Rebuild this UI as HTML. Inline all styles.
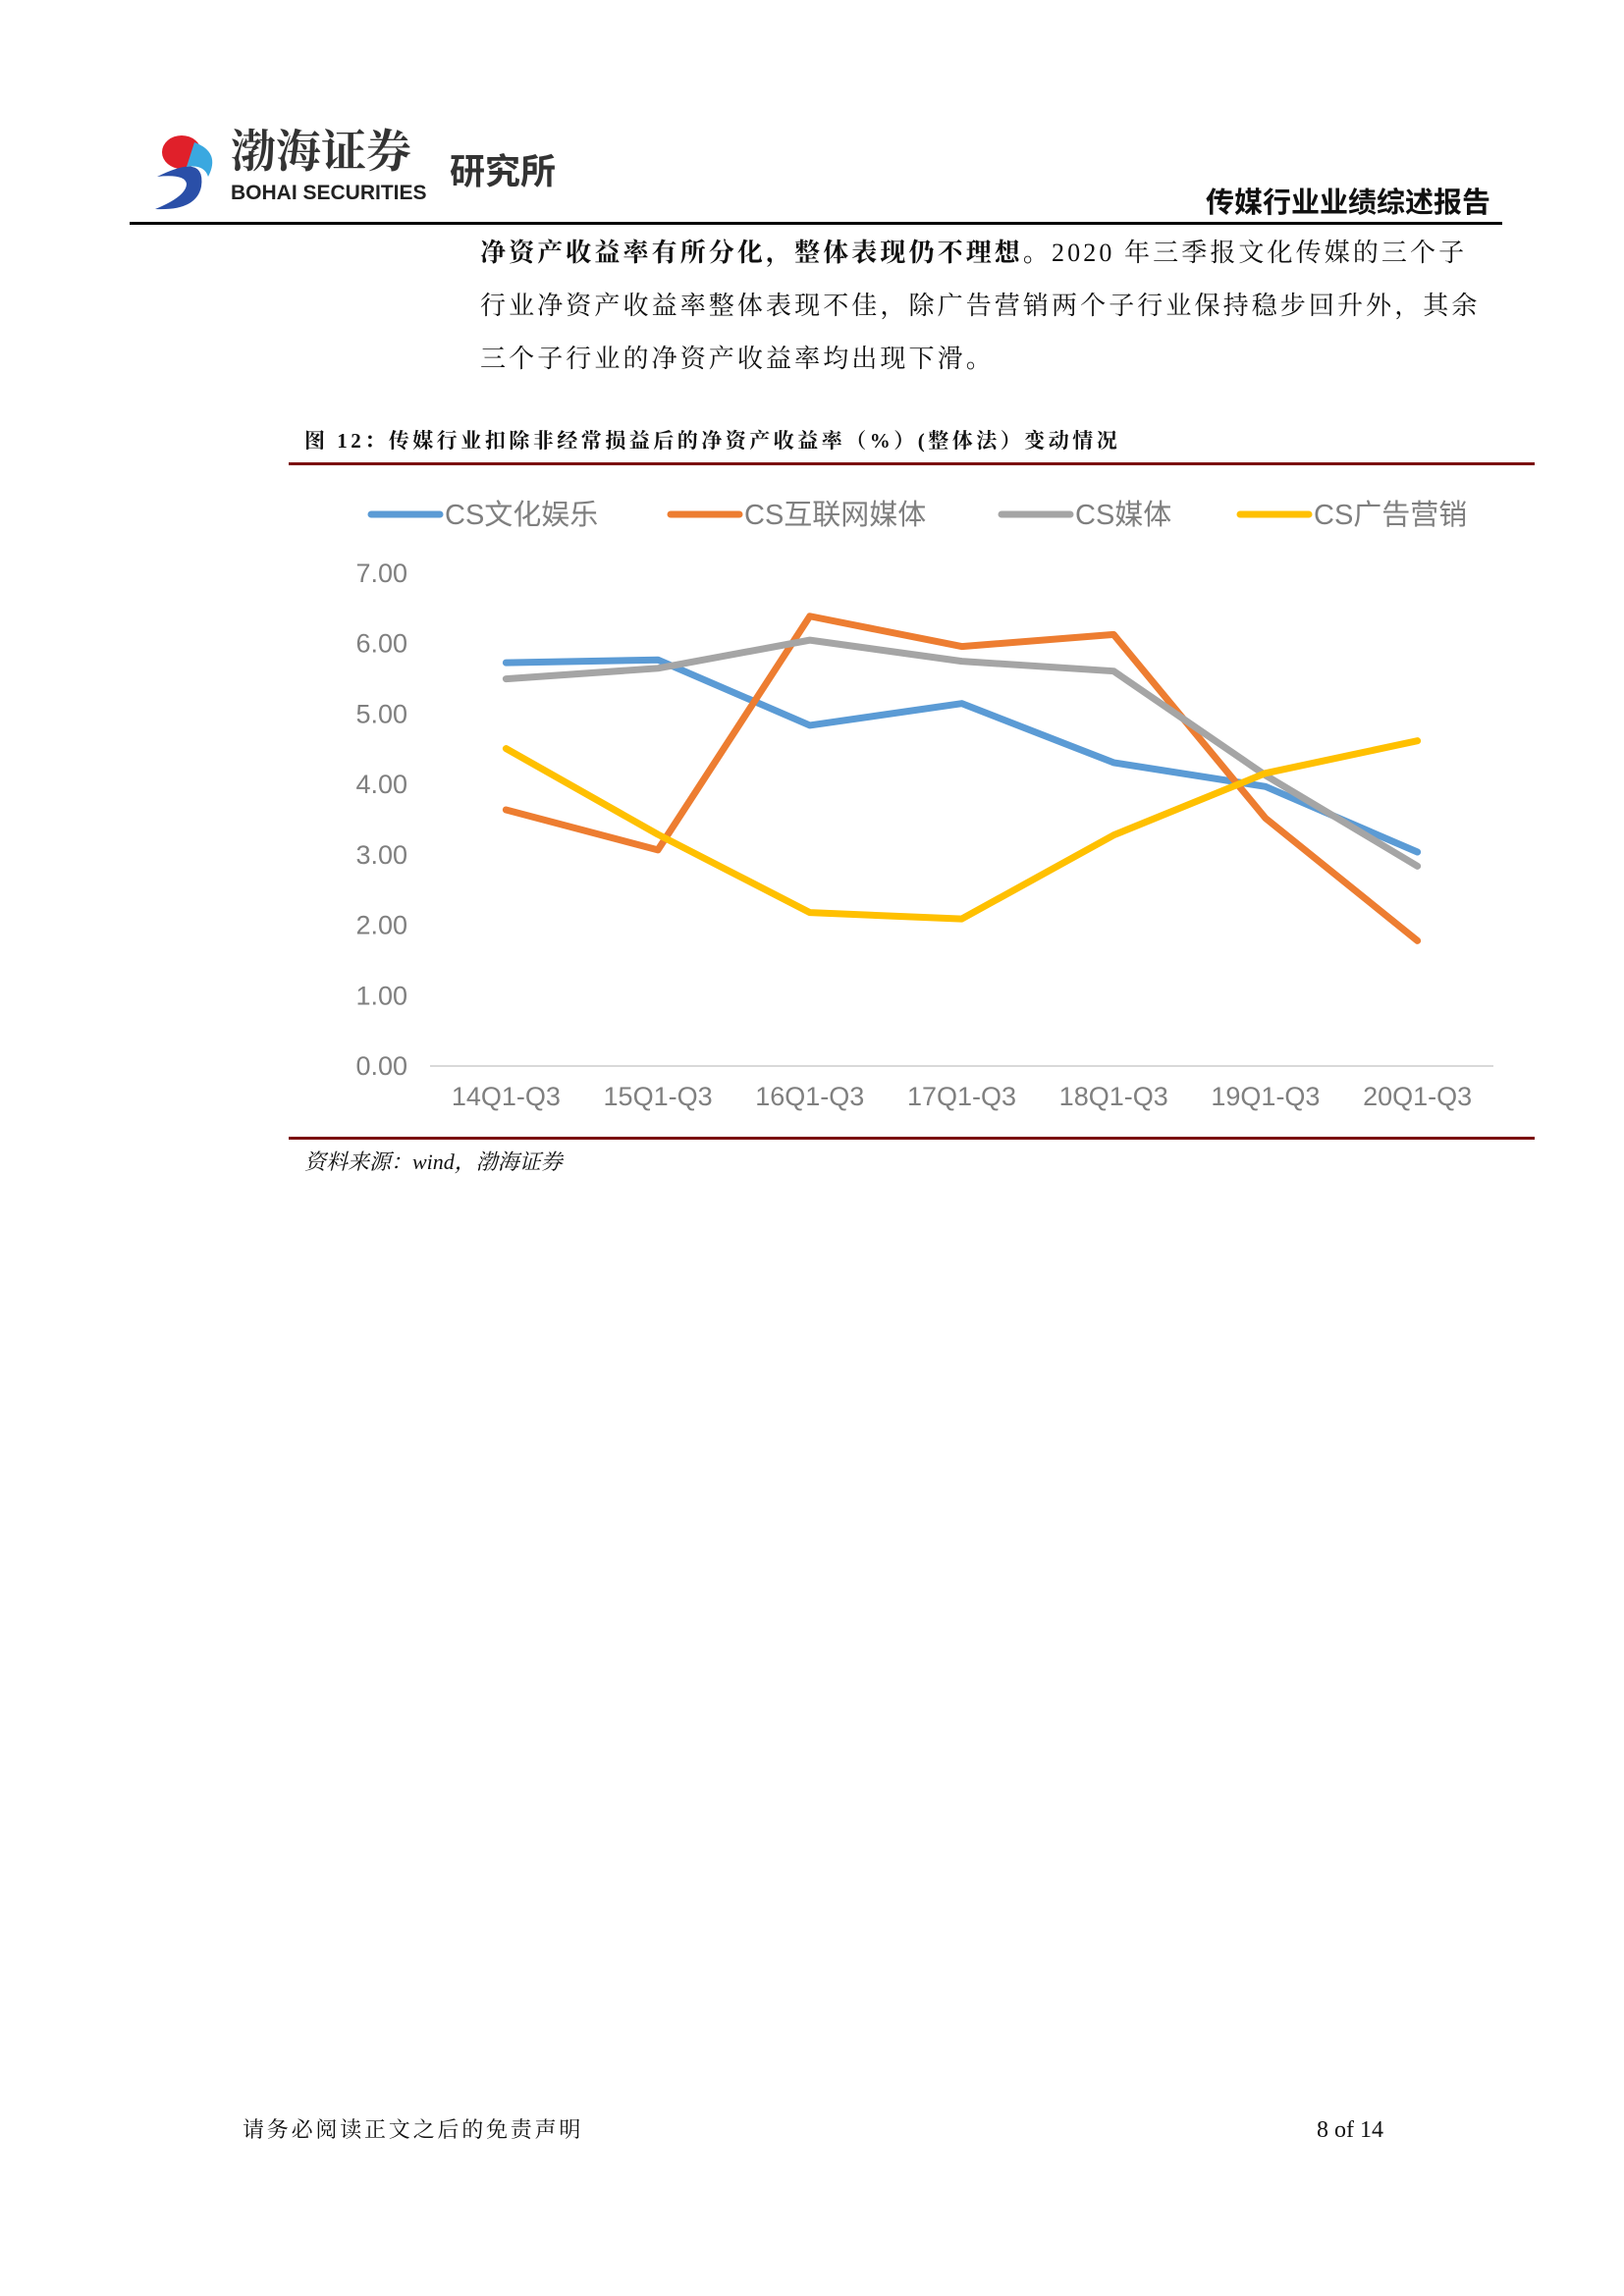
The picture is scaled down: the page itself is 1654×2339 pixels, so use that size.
<!DOCTYPE html>
<html><head><meta charset="utf-8"><style>
body{margin:0;background:#fff}
#page{position:relative;width:1654px;height:2339px;overflow:hidden;background:#fff;font-family:"Liberation Serif","Noto Serif CJK SC",serif}
.abs{position:absolute;white-space:nowrap}
</style></head><body>
<div id="page">
<svg class="abs" style="left:150px;top:125px" width="300" height="95">
<ellipse cx="35" cy="30" rx="20" ry="17" fill="#e0202a"/>
<path d="M10 55 Q60 30 55 65 Q50 90 8 88 Q40 75 40 62 Q38 52 10 55Z" fill="#2a4fa8"/>
<path d="M48 20 Q75 30 62 55 Q58 42 40 45Z" fill="#3aa8e0"/>
<text x="85" y="45" font-size="46" font-family="Noto Serif CJK SC,serif" fill="#333" font-weight="bold">渤海证券</text>
<text x="85" y="78" font-size="21" font-family="Liberation Sans,sans-serif" font-weight="bold" fill="#222">BOHAI SECURITIES</text>
</svg>
<div class="abs" style="left:458px;top:146px;font-size:36px;font-weight:bold;font-family:'Noto Sans CJK SC',sans-serif;color:#333">研究所</div>
<div class="abs" style="top:183px;font-size:29px;font-weight:bold;font-family:'Noto Sans CJK SC',sans-serif;color:#111;right:136px">传媒行业业绩综述报告</div>
<div class="abs" style="left:132px;top:226px;width:1398px;height:3px;background:#000"></div>
<div class="abs" style="left:489px;top:231px;font-size:26px;line-height:54px;color:#111;width:1100px;white-space:normal;letter-spacing:3.1px"><b>净资产收益率有所分化，整体表现仍不理想。</b>2020 年三季报文化传媒的三个子<br>行业净资产收益率整体表现不佳，除广告营销两个子行业保持稳步回升外，其余<br>三个子行业的净资产收益率均出现下滑。</div>
<div class="abs" style="left:310px;top:433px;font-size:21px;font-weight:bold;color:#111;letter-spacing:3.5px">图 12：传媒行业扣除非经常损益后的净资产收益率（%）(整体法）变动情况</div>
<div class="abs" style="left:294px;top:471px;width:1269px;height:3px;background:#7b0c0c"></div>
<div class="abs" style="left:294px;top:1158px;width:1269px;height:3px;background:#7b0c0c"></div>
<div class="abs" style="left:310px;top:1167px;font-size:22px;font-style:italic;color:#111">资料来源：wind，渤海证券</div>
<svg id="chart" class="abs" style="left:0;top:0" width="1654" height="1200"></svg>
<div class="abs" style="left:247px;top:2153px;font-size:22px;color:#111;letter-spacing:2.8px">请务必阅读正文之后的免责声明</div>
<div class="abs" style="left:1339px;top:2157px;font-size:24px;color:#111;width:70px;text-align:right">8 of 14</div>
</div>
<script>
const categories=["14Q1-Q3","15Q1-Q3","16Q1-Q3","17Q1-Q3","18Q1-Q3","19Q1-Q3","20Q1-Q3"];
const yTicks=["0.00","1.00","2.00","3.00","4.00","5.00","6.00","7.00"];
const seriesNames=["CS文化娱乐","CS互联网媒体","CS媒体","CS广告营销"];
const culture=[5.73,5.77,4.84,5.15,4.31,3.97,3.04];
const internet=[3.64,3.07,6.39,5.96,6.13,3.52,1.78];
const media=[5.50,5.65,6.05,5.75,5.61,4.13,2.84];
const advert=[4.51,3.29,2.18,2.09,3.28,4.16,4.62];
const colors=["#5B9BD5","#ED7D31","#A5A5A5","#FFC000"];
const svg=document.getElementById('chart');const NS="http://www.w3.org/2000/svg";
const x0=438,x1=1521,yb=1086,yt=584,ymax=7;
const xs=i=>x0+(x1-x0)*(i+0.5)/categories.length;
const ys=v=>yb-(yb-yt)*v/ymax;
function mk(t,a){const e=document.createElementNS(NS,t);for(const k in a)e.setAttribute(k,a[k]);svg.appendChild(e);return e;}
const ax=mk('line',{x1:x0,x2:x1,y1:yb,y2:yb,stroke:'#d9d9d9','stroke-width':2});


yTicks.forEach(t=>{const e=mk('text',{x:415,y:ys(parseFloat(t))+9,'text-anchor':'end','font-size':27,fill:'#7f7f7f','font-family':'Liberation Sans,sans-serif'});e.textContent=t;

});
categories.forEach((c,i)=>{const e=mk('text',{x:xs(i),y:1126,'text-anchor':'middle','font-size':27,fill:'#7f7f7f','font-family':'Liberation Sans,sans-serif'});e.textContent=c;

});
[culture,internet,media,advert].forEach((s,k)=>{const p=mk('polyline',{points:s.map((v,i)=>xs(i)+','+ys(v)).join(' '),fill:'none',stroke:colors[k],'stroke-width':7,'stroke-linejoin':'round','stroke-linecap':'round'});

});
const lx=[378,683,1020,1263];
seriesNames.forEach((n,k)=>{const l=mk('line',{x1:lx[k],x2:lx[k]+70,y1:524,y2:524,stroke:colors[k],'stroke-width':7,'stroke-linecap':'round'});


const t=mk('text',{x:lx[k]+75,y:534,'font-size':29,fill:'#7f7f7f','font-family':'Liberation Sans,Noto Sans CJK SC,sans-serif'});t.textContent=n;

});
</script>
</body></html>
